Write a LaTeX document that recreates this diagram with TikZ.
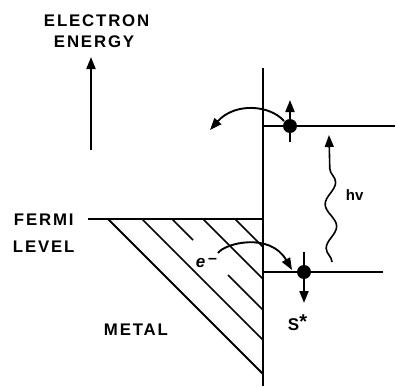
\documentclass[tikz,border=0pt]{standalone}
\usepackage{fontspec}
\setmainfont{Liberation Sans}
\newfontfamily\lab{Liberation Sans}[LetterSpace=11]
\usetikzlibrary{arrows.meta,decorations.pathmorphing}
\begin{document}
\begin{tikzpicture}[x=1pt,y=-1pt, line width=1.9pt,
  lbl/.style={anchor=base west, inner sep=0pt, font=\lab\bfseries\fontsize{16.8}{18}\selectfont},
  tip/.style={-{Triangle[length=12pt,width=9pt]}},
  hatch/.style={line width=1.6pt},
  dotnode/.style={circle, fill, inner sep=0pt, minimum size=14pt}]
\useasboundingbox (0,0) rectangle (397,388);
% labels
\node[lbl] (electron) at (43,27) {ELECTRON};
\node[lbl] (energy) at (53,48) {ENERGY};
\node[lbl] (fermi) at (13,225) {FERMI};
\node[lbl] (level) at (12,252) {LEVEL};
\node[lbl] (metal) at (103,335) {METAL};
\node[anchor=base west, inner sep=0pt, font=\bfseries\fontsize{15}{16}\selectfont] (hv) at (345,200) {hv};
\node[anchor=base west, inner sep=0pt, font=\bfseries\fontsize{17}{18}\selectfont] (sstar) at (287,330) {S\raisebox{1.5pt}{\fontsize{20}{20}\selectfont *}};
\node[anchor=base west, inner sep=0pt, font=\bfseries\fontsize{17}{18}\selectfont] (em) at (195,267) {\textit{e}\raisebox{4pt}{\fontsize{16}{16}\selectfont\,–}};
% energy axis arrow
\coordinate (eb) at (91,150); \coordinate (et) at (91,57);
\draw[tip] (eb) -- (et);
% interface
\coordinate (vt) at (263,68); \coordinate (vb) at (263,386);
\draw (vt) -- (vb);
% levels
\coordinate (ul) at (263,126); \coordinate (ur) at (395,126);
\coordinate (ll) at (263,272); \coordinate (lr) at (383,272);
\draw (ul) -- (ur);
\draw (ll) -- (lr);
% Fermi level and metal
\coordinate (fl) at (88,219); \coordinate (fr) at (263,219);
\draw (fl) -- (fr);
\coordinate (m0) at (108,219); \coordinate (m1) at (263,374);
\draw (m0) -- (m1);
\coordinate (h1a) at (142,219); \coordinate (h1b) at (263,340);
\coordinate (h2a) at (172,219); \coordinate (h2b) at (193,240);
\coordinate (h2c) at (228,275); \coordinate (h2d) at (263,310);
\coordinate (h3a) at (203,219); \coordinate (h3b) at (263,279);
\coordinate (h4a) at (235,219); \coordinate (h4b) at (263,247);
\draw[hatch] (h1a) -- (h1b);
\draw[hatch] (h2a) -- (h2b);
\draw[hatch] (h2c) -- (h2d);
\draw[hatch] (h3a) -- (h3b);
\draw[hatch] (h4a) -- (h4b);
% electrons
\node[dotnode] (d1) at (290,126) {};
\node[dotnode] (d2) at (304,272) {};
\coordinate (u1) at (290,142); \coordinate (u2) at (290,100);
\draw[tip] (u1) -- (u2);
\coordinate (w1) at (304,252); \coordinate (w2) at (304,303);
\draw[tip] (w1) -- (w2);
% curved transfers
\coordinate (c1s) at (284,121); \coordinate (c1e) at (210,130);
\draw[tip] (c1s) .. controls (270,105) and (235,102) .. (c1e);
\coordinate (c2s) at (218,253); \coordinate (c2e) at (292,270);
\draw[tip] (c2s) .. controls (225,243) and (270,232) .. (c2e);
% photon
\coordinate (p1) at (332,262); \coordinate (p2) at (329,135);
\draw[tip, line width=1.6pt, decoration={snake, amplitude=5.5pt, segment length=44pt, post length=14pt}, decorate] (p1) -- (p2);
\end{tikzpicture}
\end{document}
